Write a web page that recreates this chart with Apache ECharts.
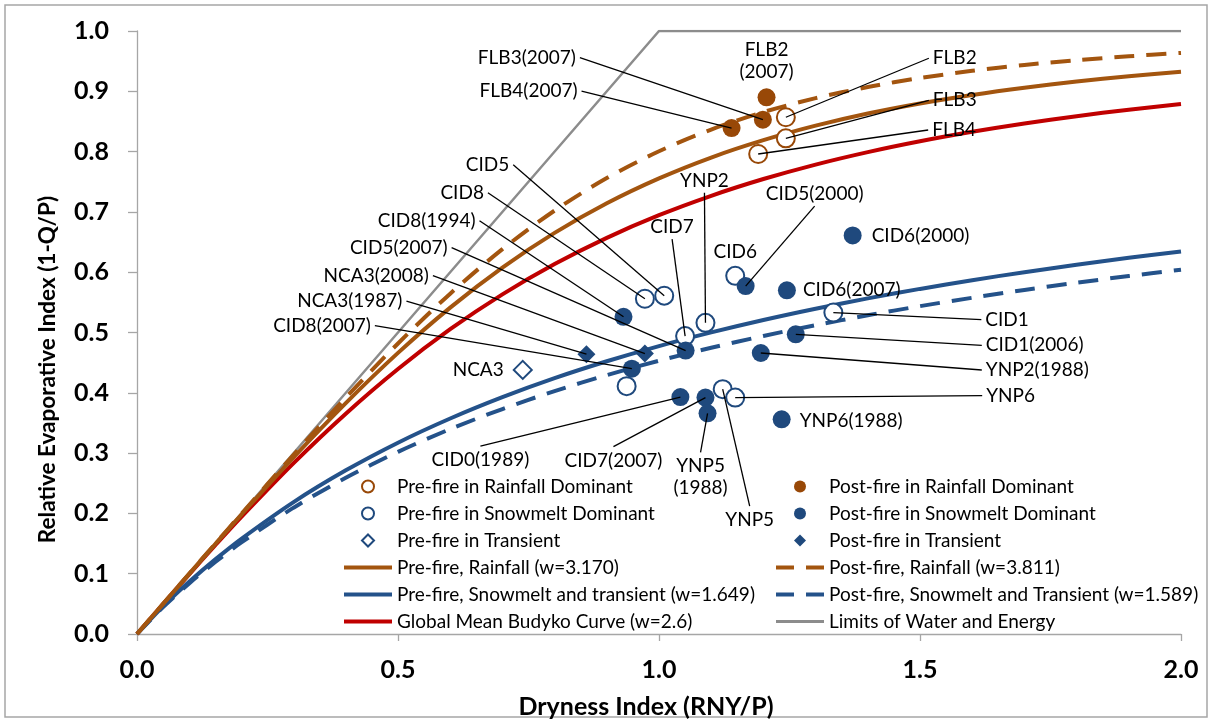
<!DOCTYPE html>
<html>
<head>
<meta charset="utf-8">
<script src="https://cdn.jsdelivr.net/npm/echarts@6/dist/echarts.min.js"></script>
<style>
  html, body { margin: 0; padding: 0; background: #ffffff; }
  #chart { width: 1213px; height: 724px; }
</style>
</head>
<body>
<div id="chart"></div>
<script>
// Dryness index grid used by the Budyko-type curves
const dryness = [0, 0.05, 0.1, 0.15, 0.2, 0.3, 0.4, 0.5, 0.6, 0.7, 0.8, 0.9, 1.0,
  1.1, 1.2, 1.3, 1.4, 1.5, 1.6, 1.7, 1.8, 1.9, 2.0];

// Relative evaporative index along each curve
const curvePreRain = [0, 0.0500, 0.0998, 0.1492, 0.1981, 0.2931, 0.3830, 0.4662, 0.5413, 0.6077, 0.6652, 0.7143, 0.7556,
  0.7902, 0.8190, 0.8430, 0.8632, 0.8799, 0.8940, 0.9060, 0.9162, 0.9249, 0.9324];
const curvePostRain = [0, 0.0500, 0.1000, 0.1498, 0.1994, 0.2973, 0.3921, 0.4818, 0.5644, 0.6382, 0.7022, 0.7561, 0.8005,
  0.8366, 0.8655, 0.8886, 0.9071, 0.9220, 0.9339, 0.9436, 0.9516, 0.9581, 0.9636];
const curvePreSnow = [0, 0.0457, 0.0865, 0.1237, 0.1579, 0.2188, 0.2714, 0.3173, 0.3574, 0.3928, 0.4243, 0.4523, 0.4775,
  0.5002, 0.5208, 0.5395, 0.5566, 0.5723, 0.5867, 0.6000, 0.6124, 0.6238, 0.6345];
const curvePostSnow = [0, 0.0446, 0.0839, 0.1194, 0.1519, 0.2095, 0.2590, 0.3021, 0.3398, 0.3731, 0.4028, 0.4293, 0.4532,
  0.4747, 0.4943, 0.5122, 0.5286, 0.5437, 0.5576, 0.5705, 0.5825, 0.5937, 0.6041];
const curveGlobal = [0, 0.0498, 0.0990, 0.1472, 0.1942, 0.2834, 0.3654, 0.4395, 0.5054, 0.5632, 0.6135, 0.6570, 0.6945,
  0.7267, 0.7545, 0.7785, 0.7992, 0.8172, 0.8329, 0.8467, 0.8588, 0.8695, 0.8790];

// Water and energy limits
const limitX = [0, 1, 2];
const limitY = [0, 1, 1];

// Catchments: [dryness index, evaporative index, name]
const rainPre = [[1.243, 0.857, 'FLB2'], [1.243, 0.822, 'FLB3'], [1.190, 0.796, 'FLB4']];
const rainPost = [[1.206, 0.890, 'FLB2(2007)'], [1.199, 0.853, 'FLB3(2007)'], [1.139, 0.839, 'FLB4(2007)']];
const snowPre = [[1.010, 0.561, 'CID5'], [0.973, 0.556, 'CID8'], [1.146, 0.594, 'CID6'], [1.334, 0.533, 'CID1'],
  [1.089, 0.516, 'YNP2'], [1.050, 0.494, 'CID7'], [0.938, 0.411, ''], [1.122, 0.406, 'YNP5'], [1.146, 0.392, 'YNP6']];
const snowPost = [[0.932, 0.526, 'CID8(1994)'], [1.166, 0.577, 'CID5(2000)'], [1.371, 0.661, 'CID6(2000)'],
  [1.245, 0.570, 'CID6(2007)'], [1.262, 0.497, 'CID1(2006)'], [1.195, 0.466, 'YNP2(1988)'],
  [1.051, 0.470, 'CID5(2007)'], [0.948, 0.440, 'CID8(2007)'], [1.041, 0.393, 'CID0(1989)'],
  [1.089, 0.392, 'CID7(2007)'], [1.093, 0.366, 'YNP5(1988)'], [1.235, 0.356, 'YNP6(1988)']];
const transPre = [[0.739, 0.438, 'NCA3']];
const transPost = [[0.861, 0.464, 'NCA3(1987)'], [0.973, 0.465, 'NCA3(2008)']];

// Axis ticks
const xTicks = [0, 0.5, 1.0, 1.5, 2.0];
const yTicks = [0, 0.1, 0.2, 0.3, 0.4, 0.5, 0.6, 0.7, 0.8, 0.9, 1.0];

// Callout placement (pixel offset from the marker to the callout anchor)
const callouts = {
  'FLB3(2007)': { dx: -183, dy: -62, side: 'L', line: true },
  'FLB4(2007)': { dx: -150, dy: -37, side: 'L', line: true },
  'FLB2(2007)': { dx: 0, dy: -13, side: 'T', line: false, text: 'FLB2\n(2007)' },
  'FLB2': { dx: 143, dy: -59, side: 'R', line: true },
  'FLB3': { dx: 143, dy: -38, side: 'R', line: true },
  'FLB4': { dx: 170, dy: -24, side: 'R', line: true },
  'CID5': { dx: -151, dy: -131, side: 'L', line: true },
  'CID8': { dx: -157, dy: -106, side: 'L', line: true },
  'CID8(1994)': { dx: -144, dy: -96, side: 'L', line: true },
  'CID5(2007)': { dx: -234, dy: -103, side: 'L', line: true },
  'NCA3(2008)': { dx: -212, dy: -78, side: 'L', line: true },
  'NCA3(1987)': { dx: -180, dy: -53, side: 'L', line: true },
  'CID8(2007)': { dx: -257, dy: -43, side: 'L', line: true },
  'NCA3': { dx: -15, dy: 0, side: 'L', line: false },
  'CID7': { dx: -13, dy: -97, side: 'T', line: true },
  'YNP2': { dx: -1, dy: -130, side: 'T', line: true },
  'CID6': { dx: 0, dy: -12, side: 'T', line: false },
  'CID5(2000)': { dx: 69, dy: -80, side: 'T', line: true },
  'CID6(2000)': { dx: 15, dy: 0, side: 'R', line: false },
  'CID6(2007)': { dx: 12, dy: 0, side: 'R', line: false },
  'CID1': { dx: 148, dy: 7, side: 'R', line: true },
  'CID1(2006)': { dx: 186, dy: 11, side: 'R', line: true },
  'YNP2(1988)': { dx: 221, dy: 17, side: 'R', line: true },
  'YNP6': { dx: 247, dy: -2, side: 'R', line: true },
  'YNP6(1988)': { dx: 14, dy: 2, side: 'R', line: false },
  'CID0(1989)': { dx: -200, dy: 49, side: 'B', line: true },
  'CID7(2007)': { dx: -92, dy: 49, side: 'B', line: true },
  'YNP5(1988)': { dx: -7, dy: 39, side: 'B', line: true, text: 'YNP5\n(1988)' },
  'YNP5': { dx: 27, dy: 117, side: 'B', line: true }
};

const BROWN_LINE = '#A3550F';
const BROWN_MARK = '#984807';
const BLUE_LINE = '#24528A';
const BLUE_MARK = '#1F497D';
const RED = '#C00000';
const GRAY = '#8C8C8C';
const FONT = 'Lato, "Open Sans", "DejaVu Sans", sans-serif';

// Legend glyphs drawn in a 48 x 12 box (corner points fix the box size)
const BOX = 'M0,0L0,0M48,12L48,12';
const ICON_SOLID = 'path://' + BOX + 'M0,4L48,4L48,8L0,8Z';
const ICON_THIN = 'path://' + BOX + 'M0,4.5L48,4.5L48,7.5L0,7.5Z';
const ICON_DASH = 'path://' + BOX + 'M0,4L18,4L18,8L0,8ZM30,4L48,4L48,8L30,8Z';
const ICON_DIAMOND = 'path://' + BOX + 'M24,0L30,6L24,12L18,6Z';

const toPairs = (xs, ys) => xs.map((x, i) => [x, ys[i]]);

function curve(name, ys, color, dashed) {
  return {
    name, type: 'line', data: toPairs(dryness, ys), symbol: 'none', smooth: 0.3,
    silent: true, z: 2,
    lineStyle: { color, width: 4, type: dashed ? [20, 12] : 'solid', cap: 'butt' },
    itemStyle: { color }
  };
}

function markers(name, data, symbol, color, filled) {
  return {
    name, type: 'scatter', data, symbol, symbolSize: 18, silent: true, z: 4,
    itemStyle: filled
      ? { color, borderWidth: 0, opacity: 1 }
      : { color: '#ffffff', borderColor: color, borderWidth: 2, opacity: 1 }
  };
}

const labelled = [...rainPre, ...rainPost, ...snowPre, ...snowPost, ...transPre, ...transPost]
  .filter(d => callouts[d[2]]);

const legendText = { fontFamily: FONT, fontSize: 19, lineHeight: 18, color: '#000' };

const chart = echarts.init(document.getElementById('chart'), null, { renderer: 'canvas' });

chart.setOption({
  animation: false,
  backgroundColor: '#ffffff',
  textStyle: { fontFamily: FONT },
  graphic: [{
    type: 'rect', silent: true, z: -10,
    shape: { x: 5, y: 5, width: 1202, height: 712 },
    style: { fill: 'none', stroke: '#a6a6a6', lineWidth: 1.5 }
  }],
  grid: { left: 137, right: 32, top: 31, bottom: 89, containLabel: false },
  xAxis: {
    type: 'value', min: 0, max: 2, interval: 0.5,
    name: 'Dryness Index (RNY/P)', nameLocation: 'middle', nameGap: 60,
    nameTextStyle: { fontFamily: FONT, fontWeight: 'bold', fontSize: 25, color: '#000', padding: [0, 26, 0, 0] },
    axisLine: { show: true, lineStyle: { color: '#a6a6a6', width: 1.3 } },
    axisTick: { show: true, length: 7, lineStyle: { color: '#a6a6a6', width: 1.3 }, customValues: xTicks },
    axisLabel: { fontFamily: FONT, fontWeight: 'bold', fontSize: 25, color: '#000', margin: 23,
      customValues: xTicks, formatter: v => v.toFixed(1) },
    splitLine: { show: false }
  },
  yAxis: {
    type: 'value', min: 0, max: 1, interval: 0.1,
    name: 'Relative Evaporative Index (1-Q/P)', nameLocation: 'middle', nameGap: 78,
    nameTextStyle: { fontFamily: FONT, fontWeight: 'bold', fontSize: 22.5, color: '#000', padding: [0, 74, 0, 0] },
    axisLine: { show: true, lineStyle: { color: '#a6a6a6', width: 1.3 } },
    axisTick: { show: true, length: 9, lineStyle: { color: '#a6a6a6', width: 1.3 }, customValues: yTicks },
    axisLabel: { fontFamily: FONT, fontWeight: 'bold', fontSize: 25, color: '#000', margin: 28,
      customValues: yTicks, formatter: v => v.toFixed(1) },
    splitLine: { show: false }
  },
  legend: [{
    left: 343, top: 477, orient: 'vertical', padding: 0, itemGap: 8,
    itemWidth: 48, itemHeight: 12, selectedMode: false, textStyle: legendText,
    data: [
      { name: 'Pre-fire in Rainfall Dominant', icon: 'circle' },
      { name: 'Pre-fire in Snowmelt Dominant', icon: 'circle' },
      { name: 'Pre-fire in Transient', icon: ICON_DIAMOND },
      { name: 'Pre-fire, Rainfall (w=3.170)', icon: ICON_SOLID },
      { name: 'Pre-fire, Snowmelt and transient (w=1.649)', icon: ICON_SOLID },
      { name: 'Global Mean Budyko Curve (w=2.6)', icon: ICON_SOLID }
    ]
  }, {
    left: 776, top: 477, orient: 'vertical', padding: 0, itemGap: 8,
    itemWidth: 48, itemHeight: 12, selectedMode: false, textStyle: legendText,
    data: [
      { name: 'Post-fire in Rainfall Dominant', icon: 'circle' },
      { name: 'Post-fire in Snowmelt Dominant', icon: 'circle' },
      { name: 'Post-fire in Transient', icon: ICON_DIAMOND },
      { name: 'Post-fire, Rainfall (w=3.811)', icon: ICON_DASH },
      { name: 'Post-fire, Snowmelt and Transient (w=1.589)', icon: ICON_DASH },
      { name: 'Limits of Water and Energy', icon: ICON_THIN }
    ]
  }],
  series: [
    {
      name: 'Limits of Water and Energy', type: 'line', data: toPairs(limitX, limitY), symbol: 'none',
      silent: true, z: 1, lineStyle: { color: GRAY, width: 2.5 }, itemStyle: { color: GRAY }
    },
    curve('Global Mean Budyko Curve (w=2.6)', curveGlobal, RED, false),
    curve('Pre-fire, Snowmelt and transient (w=1.649)', curvePreSnow, BLUE_LINE, false),
    curve('Post-fire, Snowmelt and Transient (w=1.589)', curvePostSnow, BLUE_LINE, true),
    curve('Pre-fire, Rainfall (w=3.170)', curvePreRain, BROWN_LINE, false),
    curve('Post-fire, Rainfall (w=3.811)', curvePostRain, BROWN_LINE, true),
    markers('Pre-fire in Rainfall Dominant', rainPre, 'circle', BROWN_MARK, false),
    markers('Pre-fire in Snowmelt Dominant', snowPre, 'circle', BLUE_MARK, false),
    markers('Pre-fire in Transient', transPre, 'diamond', BLUE_MARK, false),
    markers('Post-fire in Rainfall Dominant', rainPost, 'circle', BROWN_MARK, true),
    markers('Post-fire in Snowmelt Dominant', snowPost, 'circle', BLUE_MARK, true),
    markers('Post-fire in Transient', transPost, 'diamond', BLUE_MARK, true),
    {
      // Callout labels with leader lines
      type: 'custom', silent: true, z: 6, clip: false,
      data: labelled, encode: { x: 0, y: 1 },
      renderItem(params, api) {
        const item = labelled[params.dataIndex];
        const c = callouts[item[2]];
        const p = api.coord([item[0], item[1]]);
        const a = [p[0] + c.dx, p[1] + c.dy];
        const children = [];
        if (c.line) {
          children.push({
            type: 'line',
            shape: { x1: a[0], y1: a[1], x2: p[0], y2: p[1] },
            style: { stroke: '#000000', lineWidth: 1.3 }
          });
        }
        let tx = a[0], ty = a[1], align = 'center', va = 'middle';
        if (c.side === 'L') { tx = a[0] - 4; align = 'right'; }
        else if (c.side === 'R') { tx = a[0] + 4; align = 'left'; }
        else if (c.side === 'T') { ty = a[1] - 1; va = 'bottom'; }
        else { ty = a[1] + 3; va = 'top'; }
        children.push({
          type: 'text',
          style: {
            text: c.text || item[2], x: tx, y: ty, align, verticalAlign: va,
            fontFamily: FONT, fontSize: 19, lineHeight: 22, fill: '#000000'
          }
        });
        return { type: 'group', children };
      }
    }
  ]
});
</script>
</body>
</html>
